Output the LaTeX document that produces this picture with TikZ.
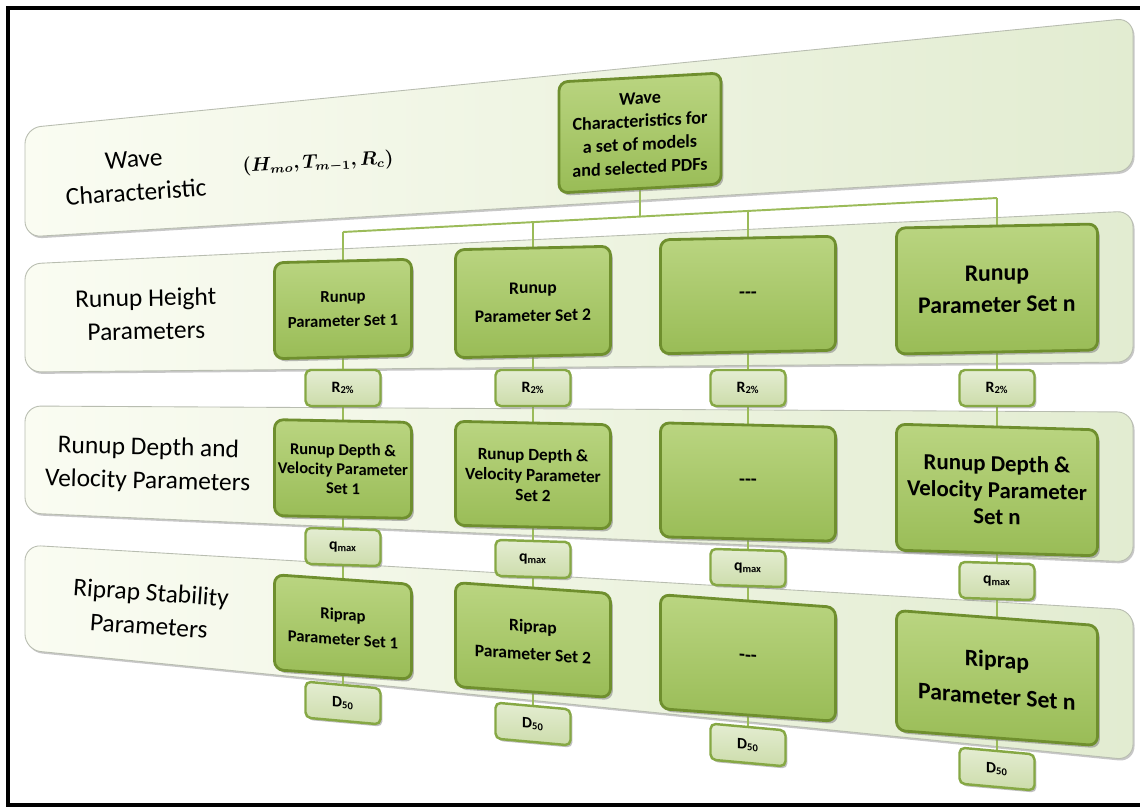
\documentclass[tikz,border=0pt]{standalone}
\usepackage{fontspec}
\setmainfont{Carlito}
\usepackage{amsmath,bm}
\usetikzlibrary{shadows}
\pgfdeclarelayer{bands}
\pgfdeclarelayer{links}
\pgfsetlayers{bands,links,main}
\definecolor{boxtop}{HTML}{BAD581}
\definecolor{boxbot}{HTML}{99BC56}
\definecolor{boxedge}{HTML}{6F8F2E}
\definecolor{lbltop}{HTML}{E4EDD2}
\definecolor{lblbot}{HTML}{CCDCAA}
\definecolor{lbledge}{HTML}{86A844}
\definecolor{linkc}{HTML}{9BBB59}
\definecolor{bandl}{HTML}{FAFCF2}
\definecolor{bandr}{HTML}{E2ECD1}
\definecolor{bandedge}{HTML}{B8BDB0}
\newcommand{\wavevars}{\ensuremath{\bm{(H_{mo},T_{m-1},R_c)}}}
\newcommand{\threedash}{{-}{-}{-}}
\tikzset{
  bigbox/.style={draw=boxedge, line width=1.6pt, top color=boxtop, bottom color=boxbot,
    rounded corners=5pt, inner sep=1pt, align=center,
    drop shadow={shadow xshift=1.3pt, shadow yshift=-1.6pt, opacity=0.55}},
  lblbox/.style={draw=lbledge, line width=1.4pt, top color=lbltop, bottom color=lblbot,
    rounded corners=3pt, inner sep=1pt, minimum width={75*0.02cm}, minimum height={36*0.02cm},
    font=\bfseries\fontsize{9}{10}\selectfont,
    drop shadow={shadow xshift=1.1pt, shadow yshift=-1.3pt, opacity=0.5}},
  bandtitle/.style={font=\fontsize{14.5}{19}\selectfont, align=center, inner sep=0pt},
  mathlabel/.style={font=\fontsize{10.5}{12}\selectfont, inner sep=0pt},
  link/.style={draw=linkc, line width=1.1pt},
  bandshade/.style={left color=bandl, right color=bandr, draw=bandedge, line width=0.5pt, rounded corners=9pt},
  bandshadow/.style={fill=black!22, rounded corners=9pt},
}
\begin{document}
\begin{tikzpicture}[x=0.02cm, y=-0.02cm]
\useasboundingbox (0,0) rectangle (1140,808);
\clip (0,0) rectangle (1140,808);

% bands
\begin{pgfonlayer}{bands}
\fill[white] (0,0) rectangle (1140,808);
\foreach \xa/\ya/\xb/\yb/\xc/\yc/\xd/\yd in {25/128/1133/18/1133/171/25/237, 25/264/1133/211/1133/362/25/372, 25/406/1133/412/1133/562/25/513, 25/545/1133/610/1133/760/25/650}{
  \fill[bandshadow] (\xa+1.5,\ya+2) -- (\xb+1.5,\yb+2) -- (\xc+1.5,\yc+2) -- (\xd+1.5,\yd+2) -- cycle;
  \shade[bandshade] (\xa,\ya) -- (\xb,\yb) -- (\xc,\yc) -- (\xd,\yd) -- cycle;
}
\end{pgfonlayer}
\draw[line width=2pt] (8,8) rectangle (1150,805);

% band titles
\node[bandtitle, rotate=4] (t1) at (135,176) {Wave\\Characteristic};
\node[mathlabel, rotate=3] (mv) at (318,163) {\wavevars};
\node[bandtitle, rotate=1] (t2) at (146,314) {Runup Height\\Parameters};
\node[bandtitle, rotate=-1.5] (t3) at (148,465) {Runup Depth and\\Velocity Parameters};
\node[bandtitle, rotate=-4] (t4) at (150,609) {Riprap Stability\\Parameters};

% wave box
\node[bigbox, minimum width={162*0.02cm}, minimum height={111*0.02cm}, yslant=0.055,
  font=\bfseries\fontsize{10.3}{13.2}\selectfont] (w) at (640,133)
  {Wave\\Characteristics for\\a set of models\\and selected PDFs};

% row 2: runup
\node[bigbox, minimum width={137*0.02cm}, minimum height={96*0.02cm}, yslant=0.025,
  font=\bfseries\fontsize{9.5}{14}\selectfont] (r1) at (343,309) {Runup\\Parameter Set 1};
\node[bigbox, minimum width={155*0.02cm}, minimum height={108*0.02cm}, yslant=0.022,
  font=\bfseries\fontsize{10}{16}\selectfont] (r2) at (533,302) {Runup\\Parameter Set 2};
\node[bigbox, minimum width={175*0.02cm}, minimum height={114*0.02cm}, yslant=0.02,
  font=\bfseries\fontsize{11}{14}\selectfont] (r3) at (748,295) {\threedash};
\node[bigbox, minimum width={201*0.02cm}, minimum height={126*0.02cm}, yslant=0.02,
  font=\bfseries\fontsize{13.5}{18}\selectfont] (r4) at (997,289) {Runup\\Parameter Set n};

% R2%
\node[lblbox] (a1) at (343,388) {R\textsubscript{2\%}};
\node[lblbox] (a2) at (533,388) {R\textsubscript{2\%}};
\node[lblbox] (a3) at (748,388) {R\textsubscript{2\%}};
\node[lblbox] (a4) at (997,388) {R\textsubscript{2\%}};

% row 3: depth
\node[bigbox, minimum width={137*0.02cm}, minimum height={96*0.02cm}, yslant=-0.02,
  font=\bfseries\fontsize{9.4}{11}\selectfont] (d1) at (343,469) {Runup Depth \&\\Velocity Parameter\\Set 1};
\node[bigbox, minimum width={155*0.02cm}, minimum height={104*0.02cm}, yslant=-0.022,
  font=\bfseries\fontsize{9.8}{11.6}\selectfont] (d2) at (533,475) {Runup Depth \&\\Velocity Parameter\\Set 2};
\node[bigbox, minimum width={175*0.02cm}, minimum height={114*0.02cm}, yslant=-0.025,
  font=\bfseries\fontsize{11}{14}\selectfont] (d3) at (748,482) {\threedash};
\node[bigbox, minimum width={201*0.02cm}, minimum height={126*0.02cm}, yslant=-0.028,
  font=\bfseries\fontsize{13}{15.2}\selectfont] (d4) at (997,490) {Runup Depth \&\\Velocity Parameter\\Set n};

% qmax
\node[lblbox, yslant=-0.03] (b1) at (343,547) {q\textsubscript{max}};
\node[lblbox, yslant=-0.03] (b2) at (533,559) {q\textsubscript{max}};
\node[lblbox, yslant=-0.03] (b3) at (748,568) {q\textsubscript{max}};
\node[lblbox, yslant=-0.03] (b4) at (997,581) {q\textsubscript{max}};

% row 4: riprap
\node[bigbox, minimum width={137*0.02cm}, minimum height={95*0.02cm}, yslant=-0.07,
  font=\bfseries\fontsize{9.5}{14}\selectfont] (p1) at (343,627) {Riprap\\Parameter Set 1};
\node[bigbox, minimum width={155*0.02cm}, minimum height={104*0.02cm}, yslant=-0.07,
  font=\bfseries\fontsize{10}{16}\selectfont] (p2) at (533,640) {Riprap\\Parameter Set 2};
\node[bigbox, minimum width={175*0.02cm}, minimum height={114*0.02cm}, yslant=-0.072,
  font=\bfseries\fontsize{11}{14}\selectfont] (p3) at (748,658) {\threedash};
\node[bigbox, minimum width={201*0.02cm}, minimum height={120*0.02cm}, yslant=-0.075,
  font=\bfseries\fontsize{13.5}{21}\selectfont] (p4) at (997,678) {Riprap\\Parameter Set n};

% D50
\node[lblbox, yslant=-0.09] (c1) at (343,703) {D\textsubscript{50}};
\node[lblbox, yslant=-0.09] (c2) at (533,724) {D\textsubscript{50}};
\node[lblbox, yslant=-0.09] (c3) at (748,745) {D\textsubscript{50}};
\node[lblbox, yslant=-0.09] (c4) at (997,769) {D\textsubscript{50}};

% connectors
\coordinate (j1) at (343,232);
\coordinate (j2) at (533,222.1);
\coordinate (jw) at (640,216.6);
\coordinate (j3) at (748,210.9);
\coordinate (j4) at (997,198);
\begin{pgfonlayer}{links}
\draw[link] (w) -- (jw);
\draw[link] (j1) -- (j4);
\draw[link] (j1) -- (r1);
\draw[link] (j2) -- (r2);
\draw[link] (j3) -- (r3);
\draw[link] (j4) -- (r4);
\foreach \i in {1,2,3,4}{
  \draw[link] (r\i) -- (a\i);
  \draw[link] (a\i) -- (d\i);
  \draw[link] (d\i) -- (b\i);
  \draw[link] (b\i) -- (p\i);
  \draw[link] (p\i) -- (c\i);
}
\end{pgfonlayer}
\end{tikzpicture}
\end{document}
